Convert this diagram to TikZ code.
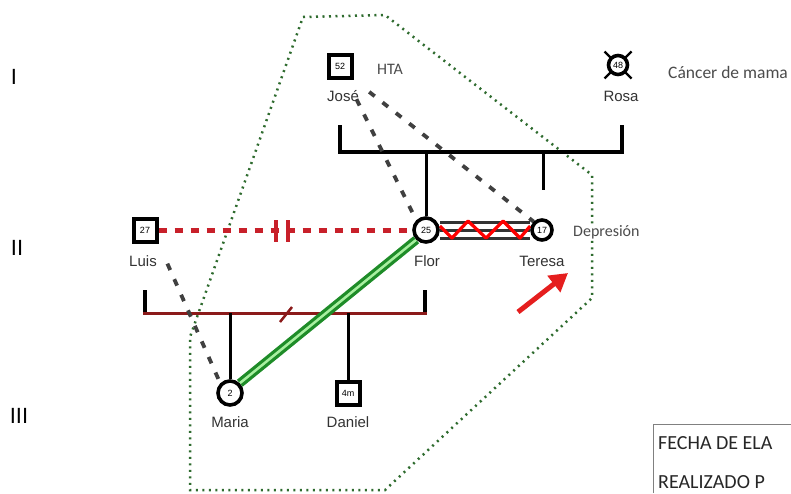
\documentclass[tikz,border=0pt]{standalone}
\usepackage{fontspec}
\setmainfont{Liberation Sans}
\newfontfamily\notefont{Carlito}
\usetikzlibrary{arrows.meta,calc,backgrounds}
\definecolor{crimson}{HTML}{C8202A}
\definecolor{brightred}{HTML}{E51E1E}
\definecolor{darkred}{HTML}{8B1A1A}
\definecolor{dotgreen}{HTML}{2E6B2E}
\definecolor{fusegreen}{HTML}{1E8C28}
\definecolor{fuselight}{HTML}{A8F0A0}
\begin{document}
\begin{tikzpicture}[x=1pt,y=-1pt,
  male/.style={rectangle, draw, line width=4pt, fill=white, minimum size=23pt, inner sep=0pt, font=\fontsize{9}{9}\selectfont},
  female/.style={circle, draw, line width=3.6pt, fill=white, minimum size=24pt, inner sep=0pt, font=\fontsize{9}{9}\selectfont},
  pname/.style={font=\fontsize{15}{16}\selectfont, text=black!80, inner sep=0pt},
  pnote/.style={font=\notefont\fontsize{16}{17}\selectfont, text=black!70, inner sep=1pt},
  gennum/.style={font=\fontsize{22}{22}\selectfont, inner sep=0pt},
  blood/.style={line width=3pt},
  marriage/.style={line width=4.5pt},
  grayrel/.style={line width=3.8pt, black!75, dash pattern=on 7pt off 10pt},
  zone/.style={dotgreen, line width=2.5pt, dash pattern=on 2pt off 4.5pt},
  boxtext/.style={font=\notefont\fontsize{20}{22}\selectfont, text=black!85, anchor=west, inner sep=0pt}
]
\useasboundingbox (0,0) rectangle (791,493);

% generation numbers
\node[gennum] (g1) at (14,77) {I};
\node[gennum] (g2) at (17,248) {II};
\node[gennum] (g3) at (19,416) {III};

% generation I
\node[male] (jose) at (340,66) {52};
\node[pname] (josen) at (343,96) {José};
\node[pnote] (hta) at (390,69) {HTA};
\coordinate (rosapos) at (618,65);
\draw[line width=2.2pt] ($(rosapos)+(-13.5,-13.5)$) -- ($(rosapos)+(13.5,13.5)$)
                      ($(rosapos)+(13.5,-13.5)$) -- ($(rosapos)+(-13.5,13.5)$);
\node[female, minimum size=19pt] (rosa) at (rosapos) {48};
\node[pname] (rosan) at (621,96) {Rosa};
\node[pnote, anchor=west, font=\notefont\fontsize{17.5}{18}\selectfont] (cancer) at (667,72) {Cáncer de mama};

% generation II
\node[male] (luis) at (145,230) {27};
\node[pname] (luisn) at (143,261) {Luis};
\node[female] (flor) at (426,230) {25};
\node[pname] (florn) at (427,261) {Flor};
\node[female, minimum size=20pt] (teresa) at (542,230) {17};
\node[pname] (teresan) at (542,261) {Teresa};
\node[pnote, fill=white, anchor=west] (dep) at (572,232) {Depresión};

% generation III
\node[female] (maria) at (230,393) {2};
\node[pname] (marian) at (230,422) {Maria};
\node[male] (daniel) at (348,393) {4m};
\node[pname] (danieln) at (348,422) {Daniel};

% arrow
\coordinate (arrtail) at (518,312);
\coordinate (arrtip) at (568,273);
\draw[brightred, line width=5pt, -{Triangle[length=18pt,width=20pt]}] (arrtail) -- (arrtip);

% box
\draw[gray, line width=0.8pt] (653,493) |- (791,424);
\node[boxtext] (fecha) at (658,443) {FECHA DE ELA};
\node[boxtext] (realiz) at (658,482) {REALIZADO P};

\begin{pgfonlayer}{background}
  \fill[white] (0,0) rectangle (791,493);
  % zone
  \draw[zone] (303,17) -- (385,15) -- (592,175) -- (592,298) -- (385,490) -- (190,490) -- (190,337) -- cycle;
  % gen I union
  \draw[marriage] (340,125) -- (340,152) -- (622,152) -- (622,125);
  \draw[blood] (426,152) -- (flor.north);
  \draw[blood] (543,152) -- (543,190);
  % gen II union
  \draw[marriage] (145,290) -- (145,313);
  \draw[marriage] (425,290) -- (425,313);
  \draw[darkred, line width=3pt] (143,313) -- (427,313);
  \draw[darkred, line width=2.5pt] (280,322) -- (292,307);
  \draw[blood] (230,313) -- (maria.north);
  \draw[blood] (348,313) -- (daniel.north);
  % Luis - Flor divorced
  \draw[crimson, line width=5pt, dash pattern=on 8pt off 8pt] (luis.east) -- (flor.west);
  \draw[crimson, line width=4pt] (276,220) -- (276,242) (288,220) -- (288,242);
  % Flor - Teresa close-hostile
  \foreach \d in {-8,0,8}
    \draw[line width=3pt, black!80] ($(flor.east)+(0,\d)$) -- ($(teresa.west)+(0,\d)$);
  \draw[red, line width=3.2pt, line join=round]
    ($(flor.east)+(0,-4)$) -- (452,238) -- (468,221) -- (486,238) -- (503,221) -- (520,238) -- ($(teresa.west)+(0,-4)$);
  % Flor - Maria fused
  \draw[fusegreen, line width=9pt] (flor.south west) -- (maria.north east);
  \draw[fuselight, line width=2.5pt] (flor.south west) -- (maria.north east);
  % distant relations
  \draw[grayrel, shorten <=22pt] ($(jose.south)!0.5!(jose.south east)$) -- (flor.north west);
  \draw[grayrel, shorten <=20pt] (jose.south east) -- (teresa.north west);
  \draw[grayrel, shorten <=22pt] (luis.south east) -- (maria.north west);
\end{pgfonlayer}
\end{tikzpicture}
\end{document}
